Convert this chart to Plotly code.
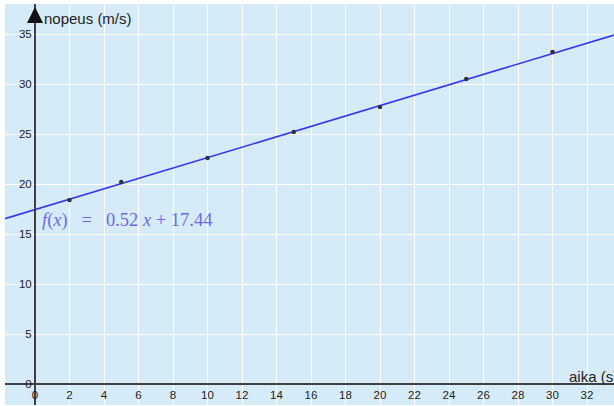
import plotly.graph_objects as go

# Data
aika = [2, 5, 10, 15, 20, 25, 30]
nopeus = [18.4, 20.2, 22.6, 25.2, 27.7, 30.5, 33.2]
slope = 0.52
intercept = 17.44

x_range = [-1.739, 33.565]
y_range = [-2.1, 38.0]

line_x = [x_range[0], x_range[1]]
line_y = [slope * v + intercept for v in line_x]

fig = go.Figure()
fig.add_trace(go.Scatter(x=line_x, y=line_y, mode="lines",
                         line=dict(color="#3535f5", width=1.6),
                         hoverinfo="skip", showlegend=False, cliponaxis=True))
fig.add_trace(go.Scatter(x=aika, y=nopeus, mode="markers",
                         marker=dict(color="#333333", size=4.5),
                         showlegend=False))

xpos = (0 - y_range[0]) / (y_range[1] - y_range[0])
ypos = (0 - x_range[0]) / (x_range[1] - x_range[0])

fig.update_layout(
    width=614, height=406,
    margin=dict(l=5, r=0, t=4, b=1),
    paper_bgcolor="white",
    plot_bgcolor="#d6ebf8",
    font=dict(family="Liberation Sans, Arial, sans-serif", color="#333333", size=11),
    xaxis=dict(range=x_range, dtick=2, tick0=0, showgrid=True, gridcolor="white",
               gridwidth=1.3, zeroline=False, showline=True, linecolor="#404040",
               linewidth=2, anchor="free", position=xpos, ticks="",
               automargin=False,
               tickfont=dict(size=11.5, color="#222222")),
    yaxis=dict(range=y_range, dtick=5, tick0=0, showgrid=True, gridcolor="white",
               gridwidth=1.3, zeroline=False, showline=True, linecolor="#404040",
               linewidth=2, anchor="free", position=ypos, ticks="",
               automargin=False,
               tickfont=dict(size=11.5, color="#222222")),
)

# axis arrowheads
fig.add_annotation(x=0, y=37.7, xref="x", yref="y", ax=0, ay=16, text="",
                   showarrow=True, arrowhead=2, arrowsize=1.6, arrowwidth=2,
                   arrowcolor="#111111")
fig.add_annotation(x=33.65, y=0, xref="x", yref="y", ax=-16, ay=0, text="",
                   showarrow=True, arrowhead=2, arrowsize=1.6, arrowwidth=2,
                   arrowcolor="#111111")

# axis titles
fig.add_annotation(x=0.4, y=36.6, xref="x", yref="y", text="nopeus (m/s)",
                   showarrow=False, xanchor="left", yanchor="middle",
                   font=dict(size=15, color="#222222",
                             family="Liberation Sans, Arial, sans-serif"))
fig.add_annotation(x=30.85, y=0.8, xref="x", yref="y", text="aika (s)",
                   showarrow=False, xanchor="left", yanchor="middle",
                   font=dict(size=15, color="#222222",
                             family="Liberation Sans, Arial, sans-serif"))

# formula
sp = "\u00a0"
formula = ("<i>f</i>(<i>x</i>)" + sp * 3 + "=" + sp * 3 + f"{slope:.2f}" +
           sp + "<i>x</i>" + sp + "+" + sp + f"{intercept:.2f}")
fig.add_annotation(x=0.3, y=16.4, xref="x", yref="y", text=formula,
                   showarrow=False, xanchor="left", yanchor="middle",
                   font=dict(size=18.5, color="#6a6ae8",
                             family="Liberation Serif, DejaVu Serif, serif"))

fig.write_html("out.html", config={"displayModeBar": False},
               post_script="document.body.style.margin='0';document.body.style.overflow='hidden';")
